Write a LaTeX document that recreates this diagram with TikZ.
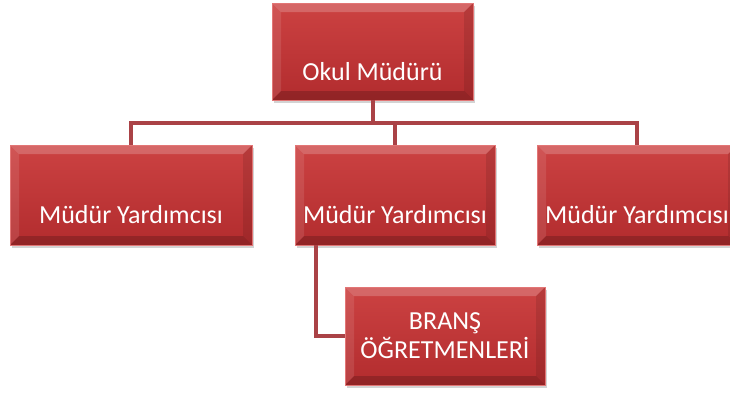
\documentclass[tikz,border=0pt]{standalone}
\usepackage{fontspec}
\setmainfont{Carlito}
\usetikzlibrary{shadows}

\definecolor{boxtop}{RGB}{204,66,66}
\definecolor{boxbot}{RGB}{178,44,46}
\definecolor{boxline}{RGB}{226,118,118}
\definecolor{connred}{RGB}{170,66,70}

\tikzset{
  orgbox/.style={draw=boxline, line width=0.6pt, top color=boxtop, bottom color=boxbot,
    minimum width=200pt, minimum height=98pt, inner sep=0pt, text=white,
    font=\fontsize{26}{29}\selectfont, align=center,
    drop shadow={opacity=0.35, shadow xshift=2pt, shadow yshift=-3pt},
    path picture={
      \fill[white,opacity=0.2] (path picture bounding box.north west) -- (path picture bounding box.north east)
        -- ([shift={(-9pt,-9pt)}]path picture bounding box.north east) -- ([shift={(9pt,-9pt)}]path picture bounding box.north west) -- cycle;
      \fill[white,opacity=0.1] (path picture bounding box.north west) -- ([shift={(9pt,-9pt)}]path picture bounding box.north west)
        -- ([shift={(9pt,9pt)}]path picture bounding box.south west) -- (path picture bounding box.south west) -- cycle;
      \fill[black,opacity=0.1] (path picture bounding box.north east) -- ([shift={(-9pt,-9pt)}]path picture bounding box.north east)
        -- ([shift={(-9pt,9pt)}]path picture bounding box.south east) -- (path picture bounding box.south east) -- cycle;
      \fill[black,opacity=0.18] (path picture bounding box.south west) -- ([shift={(9pt,9pt)}]path picture bounding box.south west)
        -- ([shift={(-9pt,9pt)}]path picture bounding box.south east) -- (path picture bounding box.south east) -- cycle;
    }},
  lbl/.style={text=white, font=\fontsize{26}{29}\selectfont, yshift=-20pt},
  conn/.style={draw=connred, line width=4pt}
}

\begin{document}
\begin{tikzpicture}[x=1pt, y=-1pt]
\useasboundingbox (0,0) rectangle (730,392);

% boxes
\node[orgbox, minimum width=201pt, minimum height=97pt, label={[lbl]center:Okul Müdürü}] (okul) at (372.5,51.5) {};
\node[orgbox, minimum width=242pt, minimum height=100pt, label={[lbl]center:Müdür Yardımcısı}] (mya) at (131,195) {};
\node[orgbox, minimum height=100pt, label={[lbl]center:Müdür Yardımcısı}] (myb) at (395,195) {};
\node[orgbox, minimum height=100pt, label={[lbl]center:Müdür Yardımcısı}] (myc) at (637,195) {};
\node[orgbox] (brans) at (445,336) {BRANŞ\\ÖĞRETMENLERİ};

% connectors
\coordinate (bus) at (0,123);
\draw[conn] (okul.south) -- (okul.south |- bus);
\draw[conn] (mya.north) -- (mya.north |- bus) -| (myc.north);
\draw[conn] (myb.north) -- (myb.north |- bus);
\draw[conn] ([xshift=-79pt]myb.south) |- (brans.west);
\end{tikzpicture}
\end{document}
